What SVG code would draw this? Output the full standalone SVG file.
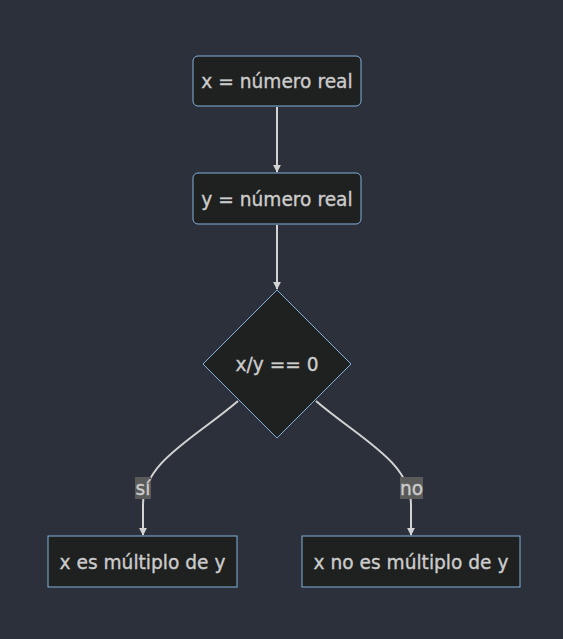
<svg xmlns="http://www.w3.org/2000/svg" width="563" height="639" viewBox="0 0 563 639">
<style>
.node rect,.node polygon{fill:#1f2020;stroke:#81b1db;stroke-width:1}
.node text,.lbl text{font-family:"DejaVu Sans",Verdana,sans-serif;font-size:18.6px;fill:#cccccc;stroke:#cccccc;stroke-width:0.35;text-anchor:middle;dominant-baseline:central}
.edge{fill:none;stroke:#d3d3d3;stroke-width:2}
.lbl rect{fill:#5a5a5a}
</style>
<defs>
<marker id="arrow" viewBox="0 0 10 10" refX="9" refY="5" markerWidth="8" markerHeight="8" markerUnits="userSpaceOnUse" orient="auto">
<path d="M0,0 L10,5 L0,10 z" fill="#d3d3d3"/>
</marker>
</defs>
<rect width="563" height="639" fill="#2b303b"/>
<g id="edges">
<path class="edge" d="M277,107 L277,172" marker-end="url(#arrow)"/>
<path class="edge" d="M277,225 L277,289" marker-end="url(#arrow)"/>
<path class="edge" d="M238,401 C195,438 143,462 143,505 L143,535" marker-end="url(#arrow)"/>
<path class="edge" d="M316,401 C359,438 411,462 411,505 L411,535" marker-end="url(#arrow)"/>
<g class="lbl"><rect x="135" y="477" width="16" height="22"/><text x="143" y="488.5">sí</text></g>
<g class="lbl"><rect x="400" y="477" width="23" height="22"/><text x="411.5" y="488.5">no</text></g>
</g>
<g id="n1" class="node"><rect x="193" y="56" width="168" height="50" rx="5"/><text x="277" y="81.5">x = número real</text></g>
<g id="n2" class="node"><rect x="193" y="173" width="168" height="51" rx="5"/><text x="277" y="199">y = número real</text></g>
<g id="n3" class="node"><polygon points="277,290 351,364 277,438 203,364"/><text x="277" y="364.5">x/y == 0</text></g>
<g id="n4" class="node"><rect x="48" y="536" width="189" height="51"/><text x="142.5" y="562">x es múltiplo de y</text></g>
<g id="n5" class="node"><rect x="302" y="536" width="218" height="51"/><text x="411" y="562">x no es múltiplo de y</text></g>
</svg>
